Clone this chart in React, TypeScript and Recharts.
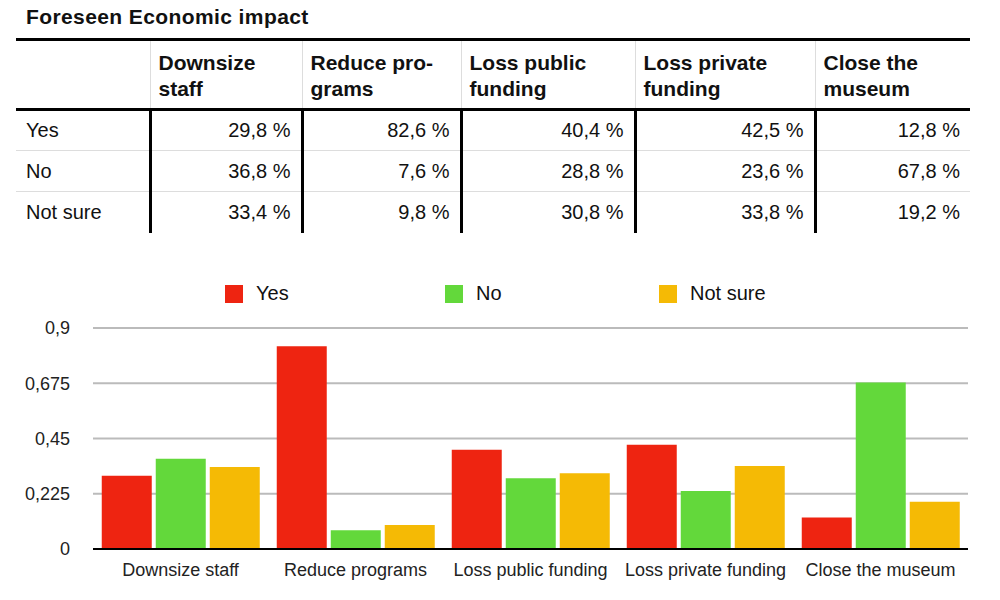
import { Bar, BarChart, CartesianGrid, XAxis, YAxis } from "recharts";

const TITLE = "Foreseen Economic impact";
const CATEGORIES = [
  "Downsize staff",
  "Reduce programs",
  "Loss public funding",
  "Loss private funding",
  "Close the museum",
];
// header labels in the table wrap differently than the axis labels
const HEADER_LINES = [
  ["Downsize", "staff"],
  ["Reduce pro-", "grams"],
  ["Loss public", "funding"],
  ["Loss private", "funding"],
  ["Close the", "museum"],
];
const SERIES = ["Yes", "No", "Not sure"];
const YES = [29.8, 82.6, 40.4, 42.5, 12.8];
const NO = [36.8, 7.6, 28.8, 23.6, 67.8];
const NOT_SURE = [33.4, 9.8, 30.8, 33.8, 19.2];
const Y_TICKS = [0, 0.225, 0.45, 0.675, 0.9];

const COLORS = ["#ee2411", "#63d83b", "#f5ba05"];
const FONT = "'Liberation Sans', Arial, sans-serif";

const rows = [YES, NO, NOT_SURE];
const data = CATEGORIES.map((name, i) => ({
  name,
  yes: YES[i] / 100,
  no: NO[i] / 100,
  notSure: NOT_SURE[i] / 100,
}));
const keys = ["yes", "no", "notSure"];

const COL_W = [134, 152, 159, 174, 180, 155];

const fmt = (v: number) => String(v).replace(".", ",");
const pct = (v: number) => v.toFixed(1).replace(".", ",") + " %";

function Table() {
  return (
    <table
      style={{
        position: "absolute",
        left: 16,
        top: 38,
        borderCollapse: "collapse",
        fontFamily: FONT,
        color: "#111",
        tableLayout: "fixed",
        width: 954,
      }}
    >
      <colgroup>
        {COL_W.map((w, i) => (
          <col key={i} style={{ width: w }} />
        ))}
      </colgroup>
      <thead>
        <tr style={{ height: 70, borderTop: "3px solid #000", borderBottom: "3px solid #000" }}>
          <th style={{ borderRight: "1.5px solid #ddd" }} />
          {HEADER_LINES.map((lines, i) => (
            <th
              key={i}
              style={{
                textAlign: "left",
                verticalAlign: "top",
                padding: "9px 8px 0 8px",
                fontSize: 21,
                lineHeight: "26px",
                fontWeight: 700,
                borderRight: i < HEADER_LINES.length - 1 ? "1.5px solid #ddd" : "none",
              }}
            >
              {lines.map((l, j) => (
                <div key={j}>{l}</div>
              ))}
            </th>
          ))}
        </tr>
      </thead>
      <tbody>
        {SERIES.map((s, r) => (
          <tr
            key={s}
            style={{
              height: 41,
              borderBottom: r < SERIES.length - 1 ? "1.5px solid #ddd" : "none",
            }}
          >
            <td style={{ padding: "0 10px", fontSize: 20, borderRight: "3px solid #000" }}>{s}</td>
            {rows[r].map((v, c) => (
              <td
                key={c}
                style={{
                  padding: "0 10px",
                  fontSize: 20,
                  textAlign: "right",
                  borderRight: c < rows[r].length - 1 ? "3px solid #000" : "none",
                }}
              >
                {pct(v)}
              </td>
            ))}
          </tr>
        ))}
      </tbody>
    </table>
  );
}

function LegendRow() {
  const xs = [225, 445, 659];
  return (
    <>
      {SERIES.map((s, i) => (
        <div
          key={s}
          style={{
            position: "absolute",
            left: xs[i],
            top: 282,
            display: "flex",
            alignItems: "center",
            fontFamily: FONT,
            fontSize: 20,
            color: "#111",
          }}
        >
          <span style={{ width: 18, height: 18, background: COLORS[i], marginRight: 13 }} />
          {s}
        </div>
      ))}
    </>
  );
}

export default function App() {
  return (
    <div
      style={{
        position: "absolute",
        left: 0,
        top: 0,
        width: 1000,
        height: 600,
        background: "#fff",
        overflow: "hidden",
      }}
    >
      <div
        style={{
          position: "absolute",
          left: 26,
          top: 5,
          fontFamily: FONT,
          fontWeight: 700,
          fontSize: 21,
          letterSpacing: 0.4,
          color: "#111",
        }}
      >
        {TITLE}
      </div>
      <Table />
      <LegendRow />
      <div style={{ position: "absolute", left: 0, top: 250 }}>
        <BarChart
          width={1000}
          height={350}
          data={data}
          margin={{ top: 78, right: 32, bottom: 21, left: 0 }}
          barCategoryGap="5%"
          barGap={4}
        >
          <CartesianGrid vertical={false} stroke="#bbb" strokeWidth={2} />
          <XAxis
            dataKey="name"
            height={30}
            tickLine={false}
            axisLine={{ stroke: "#000", strokeWidth: 2 }}
            tick={{ fill: "#222", fontSize: 18, fontFamily: FONT }}
            tickMargin={8}
            interval={0}
          />
          <YAxis
            width={93}
            domain={[0, 0.9]}
            ticks={Y_TICKS}
            tickFormatter={fmt}
            axisLine={false}
            tickLine={false}
            tickSize={0}
            tickMargin={23}
            tick={{ fill: "#222", fontSize: 18, fontFamily: FONT }}
          />
          {keys.map((k, i) => (
            <Bar key={k} dataKey={k} name={SERIES[i]} fill={COLORS[i]} isAnimationActive={false} />
          ))}
        </BarChart>
      </div>
    </div>
  );
}
